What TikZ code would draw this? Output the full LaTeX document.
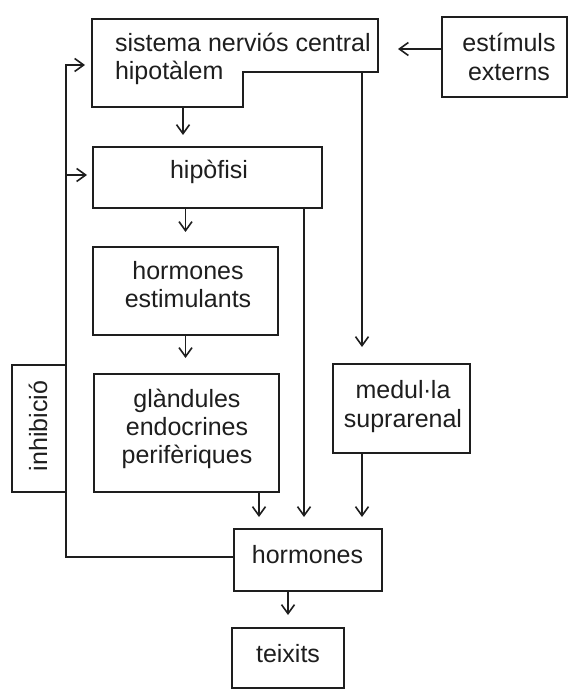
\documentclass[tikz,border=0pt]{standalone}
\usepackage{fontspec}
\setmainfont{Liberation Sans}
\usetikzlibrary{arrows.meta}
\definecolor{ink}{RGB}{30,30,30}
\begin{document}
\begin{tikzpicture}[x=1pt,y=-1pt,
  box/.style={draw=ink,line width=1.7pt,inner sep=0pt,outer sep=0pt},
  lbl/.style={text=ink,inner sep=0pt,outer sep=0pt,align=center,anchor=base,
    font=\fontsize{25}{28}\selectfont},
  wire/.style={draw=ink,line width=1.6pt},
  arr/.style={wire,-{Straight Barb[length=9pt,width=13pt,line width=1.6pt]}}]
\useasboundingbox[fill=white] (0,0) rectangle (583,700);
% central nervous system (notched box)
\coordinate (s1) at (92,19);
\coordinate (s2) at (378,19);
\coordinate (s3) at (378,72);
\coordinate (s4) at (243,72);
\coordinate (s5) at (243,107);
\coordinate (s6) at (92,107);
\draw[wire,line width=1.7pt,line join=miter] (s1) -- (s2) -- (s3) -- (s4) -- (s5) -- (s6) -- cycle;
\node[lbl,align=left,anchor=base west] (snc) at (115,80) {sistema nerviós central\\hipotàlem};
\coordinate (sncB) at (183,107);
\coordinate (sncN) at (362,72);
\coordinate (sncR) at (378,49);
\coordinate (sncL) at (92,65);
% boxes
\node[box,minimum width=125pt,minimum height=80pt] (est) at (504.5,57) {};
\node[lbl] (estT) at (509,81) {estímuls\\[1pt]externs};
\node[box,minimum width=229pt,minimum height=61pt] (hip) at (207.5,177.5) {};
\node[lbl] (hipT) at (209,179) {hipòfisi};
\node[box,minimum width=185pt,minimum height=88pt] (hest) at (185.5,291) {};
\node[lbl] (hestT) at (188,307) {hormones\\estimulants};
\node[box,minimum width=185pt,minimum height=118pt] (gland) at (186.5,433) {};
\node[lbl] (glandT) at (187,463) {glàndules\\endocrines\\perifèriques};
\node[box,minimum width=127pt,minimum height=54pt,rotate=90] (inh) at (39,428.5) {};
\node[lbl,rotate=90] (inhT) at (47,426) {inhibició};
\node[box,minimum width=137pt,minimum height=89pt] (med) at (401.5,408.5) {};
\node[lbl] (medT) at (403,427) {medul\kern-0.02em·\kern-0.02em la\\[1pt]suprarenal};
\node[box,minimum width=148pt,minimum height=62pt] (horm) at (308,560) {};
\node[lbl] (hormT) at (307.5,563) {hormones};
\node[box,minimum width=112pt,minimum height=60pt] (teix) at (288,658) {};
\node[lbl] (teixT) at (288,662) {teixits};
% helper coordinates
\coordinate (hipR) at ([xshift=-18pt]hip.south east);
\coordinate (glB) at ([xshift=-20pt]gland.south east);
\coordinate (fb) at (66,65);
% connectors
\draw[arr,shorten >=20pt] (est.west |- sncR) -- (sncR);
\draw[arr,shorten >=12pt] (sncB) -- (sncB |- hip.north);
\draw[arr,shorten >=15pt] (hip.south -| hest.north) -- (hest.north);
\draw[arr,shorten >=16pt] (hest.south) -- (hest.south |- gland.north);
\draw[arr,shorten >=17pt] (sncN) -- (med.north -| sncN);
\draw[arr,shorten >=12pt] (med.south -| sncN) -- (horm.north -| sncN);
\draw[arr,shorten >=12pt] (hipR) -- (horm.north -| hipR);
\draw[arr,shorten >=12pt] (glB) -- (horm.north -| glB);
\draw[arr,shorten >=13pt] (horm.south -| teix.north) -- (teix.north);
\draw[arr,shorten >=7pt] ([yshift=3pt]horm.west) -| (fb) -- (sncL);
\draw[arr,shorten >=6pt] ([yshift=2.5pt]hip.west -| fb) -- ([yshift=2.5pt]hip.west);
\end{tikzpicture}
\end{document}
